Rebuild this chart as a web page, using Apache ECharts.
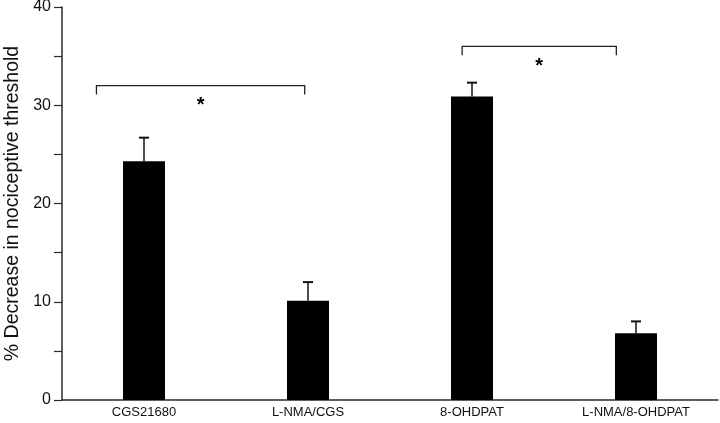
<!DOCTYPE html>
<html>
<head>
<meta charset="utf-8">
<script src="https://cdn.jsdelivr.net/npm/echarts@6/dist/echarts.min.js"></script>
<style>
  html, body { margin: 0; padding: 0; background: #fff; }
  #chart { width: 720px; height: 423px; }
</style>
</head>
<body>
<div id="chart"></div>
<script>
// categories and values
const categories = ["CGS21680", "L-NMA/CGS", "8-OHDPAT", "L-NMA/8-OHDPAT"];
const means = [24.3, 10.1, 30.9, 6.8];
const errTops = [26.7, 12.0, 32.3, 8.0];
// significance brackets: [xFrom, xTo, y, drop] in category units (0 = first centre)
const brackets = [
  [-0.29, 0.98, 32.0, 0.9],
  [1.94, 2.88, 36.0, 0.9]
];
const yTicks = [0, 10, 20, 30, 40];

const chart = echarts.init(document.getElementById("chart"));
const axisColor = "#2a2a2a";
const font = "Liberation Sans, Arial, sans-serif";

chart.setOption({
  animation: false,
  grid: { left: 62, right: 2, top: 7, bottom: 23, containLabel: false, outerBoundsMode: "none" },
  xAxis: {
    type: "category",
    data: categories,
    axisLine: { lineStyle: { color: axisColor, width: 1.5 } },
    axisTick: { show: false },
    axisLabel: { color: "#111", fontFamily: font, fontSize: 13, margin: 6 }
  },
  yAxis: {
    type: "value",
    min: 0,
    max: 40,
    interval: 5,
    name: "% Decrease in nociceptive threshold",
    nameLocation: "middle",
    nameGap: 34,
    nameTextStyle: { color: "#111", fontFamily: font, fontSize: 19.5 },
    axisLine: { show: true, lineStyle: { color: axisColor, width: 1.5 } },
    axisTick: { show: true, length: 8, lineStyle: { color: axisColor, width: 1.2 } },
    splitLine: { show: false },
    axisLabel: {
      color: "#111",
      fontFamily: font,
      fontSize: 16,
      margin: 11,
      formatter: v => (yTicks.indexOf(v) >= 0 ? String(v) : "")
    }
  },
  series: [
    {
      type: "bar",
      data: means,
      barWidth: 42,
      itemStyle: { color: "#000" },
      z: 2
    },
    {
      // error bars (upper only)
      type: "custom",
      data: means.map((m, i) => [i, m, errTops[i]]),
      renderItem: (params, api) => {
        const base = api.coord([api.value(0), api.value(1)]);
        const top = api.coord([api.value(0), api.value(2)]);
        const half = 5;
        return {
          type: "group",
          children: [
            { type: "line", shape: { x1: base[0], y1: base[1], x2: top[0], y2: top[1] }, style: { stroke: "#111", lineWidth: 1.5 } },
            { type: "line", shape: { x1: top[0] - half, y1: top[1], x2: top[0] + half, y2: top[1] }, style: { stroke: "#111", lineWidth: 2 } }
          ]
        };
      },
      z: 3
    },
    {
      // significance brackets with asterisk; fractional category positions
      type: "custom",
      data: brackets.map((b, i) => [i, b[2]]),
      renderItem: (params, api) => {
        const br = brackets[params.dataIndex];
        const c0 = api.coord([0, br[2]]);
        const c1 = api.coord([1, br[2]]);
        const step = c1[0] - c0[0];
        const xa = c0[0] + br[0] * step;
        const xb = c0[0] + br[1] * step;
        const y = c0[1];
        const yd = api.coord([0, br[2] - br[3]])[1];
        return {
          type: "group",
          children: [
            {
              type: "polyline",
              shape: { points: [[xa, yd], [xa, y], [xb, y], [xb, yd]] },
              style: { stroke: "#222", lineWidth: 1.3, fill: null }
            },
            {
              type: "text",
              x: (xa + xb) / 2,
              y: y + 10,
              style: {
                text: "*",
                fill: "#000",
                font: "bold 20px " + font,
                align: "center",
                verticalAlign: "top"
              }
            }
          ]
        };
      },
      z: 3
    }
  ]
});
</script>
</body>
</html>
